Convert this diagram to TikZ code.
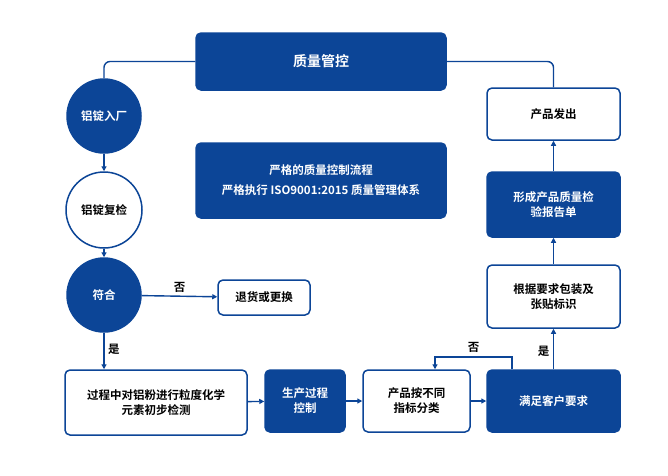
\documentclass[tikz,border=0pt]{standalone}
\usepackage{fontspec}
\setmainfont{Noto Sans CJK SC}[BoldFont={* Bold}]
\usetikzlibrary{arrows.meta}
\definecolor{qb}{HTML}{0C4597}
\begin{document}
\begin{tikzpicture}[x=1pt,y=-1pt,font=\bfseries\fontsize{11.5}{15}\selectfont,
  fb/.style={draw=qb,fill=qb,text=white,rounded corners=5pt,line width=1.5pt,align=center},
  wb/.style={draw=qb,fill=white,text=black,rounded corners=5pt,line width=1.5pt,align=center},
  fc/.style={circle,draw=qb,fill=qb,text=white,line width=1.5pt,minimum size=74pt,inner sep=0pt},
  wc/.style={circle,draw=qb,fill=white,text=black,line width=1.5pt,minimum size=76pt,inner sep=0pt},
  ln/.style={draw=qb,line width=1.4pt},
  ar/.style={ln,-{Triangle[length=5pt,width=5pt]}},
  lb/.style={text=black}]
\useasboundingbox (0,0) rectangle (668,475);
\path[fill=white] (0,0) rectangle (668,475);
\node[fb,minimum width=250pt,minimum height=57pt,font=\bfseries\fontsize{14}{16}\selectfont] (top) at (321,61.5) {质量管控};
\node[fb,minimum width=250pt,minimum height=75pt] (mid) at (321,180.5) {严格的质量控制流程\\[5pt]严格执行 ISO9001:2015 质量管理体系};
\node[fc] (c1) at (104,116) {铝锭入厂};
\node[wc] (c2) at (104,210) {铝锭复检};
\node[fc] (c3) at (104,295) {符合};
\node[wb,minimum width=92pt,minimum height=35pt] (ret) at (264,297.5) {退货或更换};
\node[wb,minimum width=182pt,minimum height=65pt] (b1) at (156,402.5) {过程中对铝粉进行粒度化学\\元素初步检测};
\node[fb,minimum width=80pt,minimum height=62pt] (b2) at (305,401) {生产过程\\控制};
\node[wb,minimum width=107pt,minimum height=62pt] (b3) at (416.5,401) {产品按不同\\指标分类};
\node[fb,minimum width=133pt,minimum height=62pt] (b4) at (553.5,401) {满足客户要求};
\node[wb,minimum width=133pt,minimum height=63pt] (r1) at (553.5,296.5) {根据要求包装及\\张贴标识};
\node[fb,minimum width=133pt,minimum height=65pt] (r2) at (553.5,204.5) {形成产品质量检\\验报告单};
\node[wb,minimum width=133pt,minimum height=52pt] (r3) at (553.5,114) {产品发出};
\draw[ln,rounded corners=6pt] (top.west) -| (c1.north);
\draw[ln,rounded corners=6pt] (top.east) -| (r3.north);
\draw[ar] (c1) -- (c2);
\draw[ar] (c2) -- (c3);
\draw[ar] (c3) -- node[lb,above]{否} (ret);
\draw[ar] (c3) -- node[lb,right,pos=0.45]{是} (b1.north -| c3);
\draw[ar] (b1) -- (b2);
\draw[ar] (b2) -- (b3);
\draw[ar] (b3) -- (b4);
\coordinate (f1) at (512,357);
\draw[ar] (b4.north -| f1) -- (f1) -- node[lb,above]{否} (435,357) -- (b3.north -| 435,0);
\draw[ar] (b4) -- node[lb,left,pos=0.45]{是} (r1);
\draw[ar] (r1) -- (r2);
\draw[ar] (r2) -- (r3);
\end{tikzpicture}
\end{document}
